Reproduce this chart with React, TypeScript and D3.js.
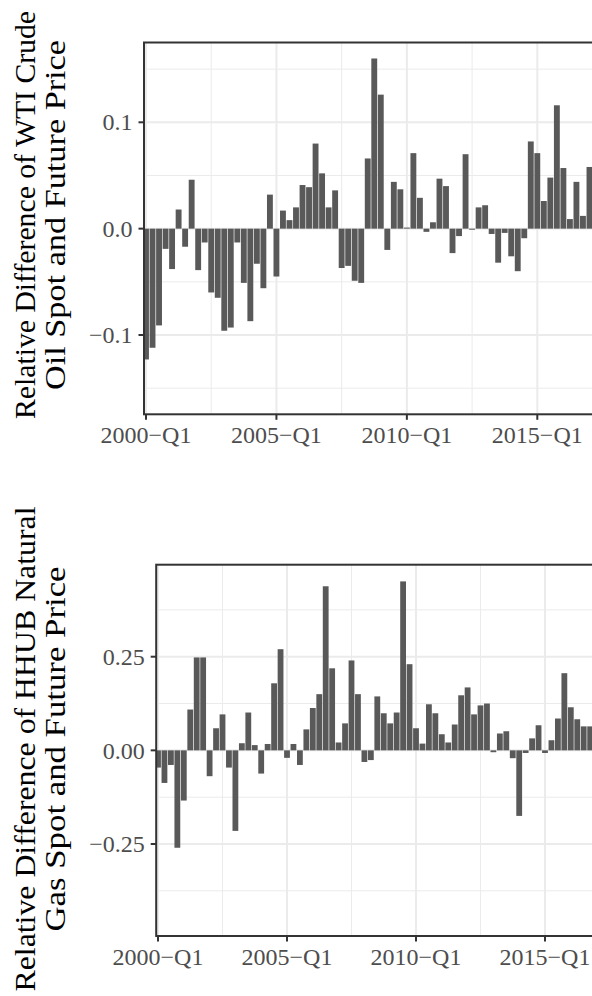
import React from "react";
import * as d3 from "d3";

const xTickLabels = ["2000−Q1", "2005−Q1", "2010−Q1", "2015−Q1"];
const xTickIndex = [0, 20, 40, 60];
const xMinorIndex = [10, 30, 50, 70];

const wtiValues = [
  -0.123, -0.112, -0.091, -0.019, -0.038, 0.018, -0.017, 0.046, -0.039, -0.013,
  -0.06, -0.065, -0.096, -0.093, -0.013, -0.051, -0.087, -0.033, -0.056, 0.032,
  -0.045, 0.017, 0.008, 0.02, 0.041, 0.039, 0.08, 0.052, 0.02, 0.036,
  -0.037, -0.035, -0.049, -0.051, 0.066, 0.16, 0.126, -0.02, 0.044, 0.037,
  0.001, 0.071, 0.029, -0.003, 0.006, 0.047, 0.04, -0.023, -0.007, 0.07,
  -0.001, 0.02, 0.022, -0.005, -0.032, -0.004, -0.026, -0.04, -0.009, 0.082,
  0.071, 0.026, 0.048, 0.116, 0.057, 0.009, 0.044, 0.012, 0.058,
];
const wtiYTicks = [-0.1, 0.0, 0.1];
const wtiYTickLabels = ["−0.1", "0.0", "0.1"];
const wtiYMinor = [-0.15, -0.05, 0.05, 0.15];
const wtiTitle = ["Relative Difference of WTI Crude", "Oil Spot and Future Price"];

const hhubValues = [
  -0.046, -0.087, -0.039, -0.26, -0.134, 0.109, 0.248, 0.248, -0.069, 0.059,
  0.096, -0.046, -0.215, 0.019, 0.101, 0.014, -0.062, 0.017, 0.179, 0.27,
  -0.02, 0.017, -0.039, 0.056, 0.113, 0.15, 0.438, 0.219, 0.021, 0.072,
  0.24, 0.15, -0.031, -0.026, 0.144, 0.099, 0.072, 0.101, 0.451, 0.23,
  0.059, 0.018, 0.123, 0.099, 0.043, 0.021, 0.069, 0.147, 0.168, 0.096,
  0.12, 0.125, -0.005, 0.045, 0.051, -0.021, -0.175, -0.007, 0.032, 0.067,
  -0.007, 0.027, 0.085, 0.206, 0.115, 0.083, 0.064, 0.064,
];
const hhubYTicks = [-0.25, 0.0, 0.25];
const hhubYTickLabels = ["−0.25", "0.00", "0.25"];
const hhubYMinor = [-0.375, -0.125, 0.125, 0.375];
const hhubTitle = ["Relative Difference of HHUB Natural", "Gas Spot and Future Price"];

const FONT = "'Liberation Serif', 'Times New Roman', serif";

type PanelProps = {
  values: number[];
  yTicks: number[];
  yTickLabels: string[];
  yMinor: number[];
  title: string[];
  titleLengths: number[];
  left: number;
  top: number;
  bottom: number;
  x0: number;
  x60: number;
  yTickVals: [number, number];
  yTickPix: [number, number];
  titleCenter: number;
};

function Panel(p: PanelProps) {
  const x = d3.scaleLinear().domain([0, 60]).range([p.x0, p.x60]);
  const y = d3.scaleLinear().domain(p.yTickVals).range(p.yTickPix);
  const step = x(1) - x(0);
  const bw = step * 0.9;
  const right = 640;
  const clipId = "clip" + Math.round(p.top);
  return (
    <g>
      <defs>
        <clipPath id={clipId}>
          <rect x={p.left} y={p.top} width={right - p.left} height={p.bottom - p.top} />
        </clipPath>
      </defs>
      <rect x={p.left} y={p.top} width={right - p.left} height={p.bottom - p.top} fill="#fff" />
      <g clipPath={`url(#${clipId})`}>
        {p.yMinor.map((v) => (
          <line key={"ym" + v} x1={p.left} x2={right} y1={y(v)} y2={y(v)} stroke="#EBEBEB" strokeWidth={1} />
        ))}
        {xMinorIndex.map((i) => (
          <line key={"xm" + i} x1={x(i)} x2={x(i)} y1={p.top} y2={p.bottom} stroke="#EBEBEB" strokeWidth={1} />
        ))}
        {p.yTicks.map((v) => (
          <line key={"yM" + v} x1={p.left} x2={right} y1={y(v)} y2={y(v)} stroke="#EBEBEB" strokeWidth={2} />
        ))}
        {xTickIndex.map((i) => (
          <line key={"xM" + i} x1={x(i)} x2={x(i)} y1={p.top} y2={p.bottom} stroke="#EBEBEB" strokeWidth={2} />
        ))}
        {p.values.map((v, i) => (
          <rect
            key={i}
            x={x(i) - bw / 2}
            width={bw}
            y={Math.min(y(v), y(0))}
            height={Math.abs(y(v) - y(0))}
            fill="#595959"
          />
        ))}
      </g>
      <rect x={p.left} y={p.top} width={right - p.left} height={p.bottom - p.top} fill="none" stroke="#333333" strokeWidth={2} />
      {p.yTicks.map((v, k) => (
        <g key={"yt" + v}>
          <line x1={p.left - 5.5} x2={p.left} y1={y(v)} y2={y(v)} stroke="#333333" strokeWidth={2} />
          <text
            x={p.left - 11.5}
            y={y(v)}
            dy="0.34em"
            textAnchor="end"
            fontFamily={FONT}
            fontSize={24}
            fill="#4D4D4D"
          >
            {p.yTickLabels[k]}
          </text>
        </g>
      ))}
      {xTickIndex.map((i, k) => (
        <g key={"xt" + i}>
          <line x1={x(i)} x2={x(i)} y1={p.bottom} y2={p.bottom + 5.5} stroke="#333333" strokeWidth={2} />
          <text
            x={x(i)}
            y={p.bottom + 28.5}
            textAnchor="middle"
            fontFamily={FONT}
            fontSize={24}
            fill="#4D4D4D"
          >
            {xTickLabels[k]}
          </text>
        </g>
      ))}
      {p.title.map((t, k) => (
        <text
          key={"tt" + k}
          transform={`translate(${35 + k * 30}, ${p.titleCenter}) rotate(-90)`}
          textAnchor="middle"
          fontFamily={FONT}
          fontSize={30}
          textLength={p.titleLengths[k]}
          lengthAdjust="spacingAndGlyphs"
          fill="#000"
        >
          {t}
        </text>
      ))}
    </g>
  );
}

export default function App() {
  return (
    <div style={{ position: "absolute", left: 0, top: 0 }}>
      <svg width={592} height={996} style={{ display: "block" }}>
        <rect x={0} y={0} width={592} height={996} fill="#fff" />
        <Panel
          values={wtiValues}
          yTicks={wtiYTicks}
          yTickLabels={wtiYTickLabels}
          yMinor={wtiYMinor}
          title={wtiTitle}
          titleLengths={[408, 350]}
          left={144}
          top={42.5}
          bottom={414.3}
          x0={146}
          x60={537.3}
          yTickVals={[-0.1, 0.1]}
          yTickPix={[335, 122.3]}
          titleCenter={215}
        />
        <Panel
          values={hhubValues}
          yTicks={hhubYTicks}
          yTickLabels={hhubYTickLabels}
          yMinor={hhubYMinor}
          title={hhubTitle}
          titleLengths={[485, 365]}
          left={156.2}
          top={564.7}
          bottom={936}
          x0={158}
          x60={545}
          yTickVals={[-0.25, 0.25]}
          yTickPix={[844, 656.7]}
          titleCenter={749}
        />
      </svg>
    </div>
  );
}
